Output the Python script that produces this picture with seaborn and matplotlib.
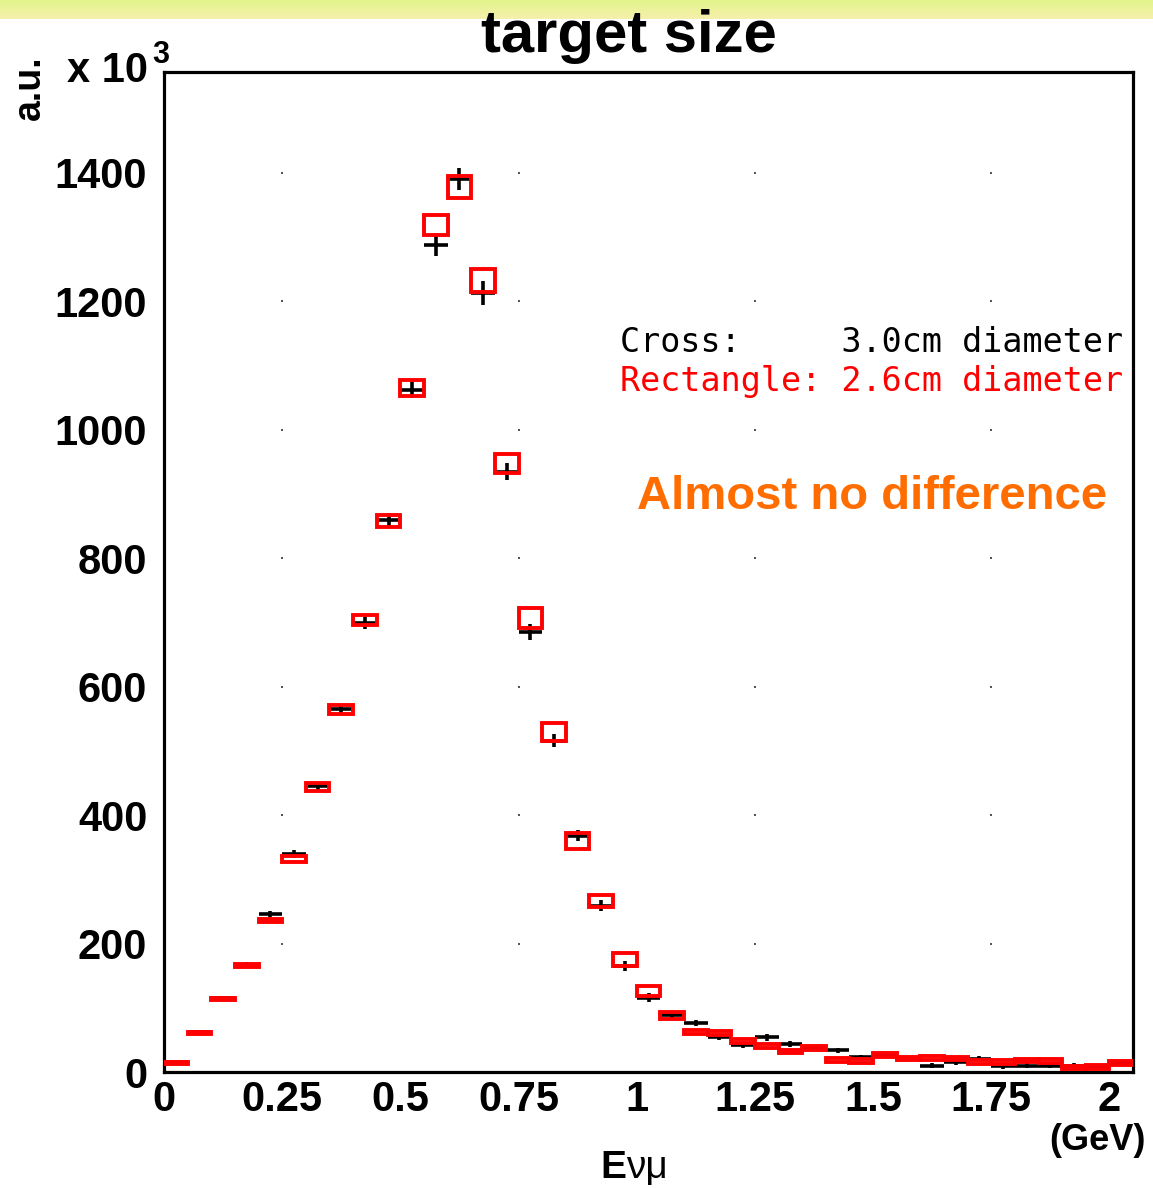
import numpy as np
import matplotlib
matplotlib.use('Agg')
import matplotlib.pyplot as plt
import seaborn as sns

# bins of 0.05 GeV from 0 to 2.05
bin_width = 0.05
bin_centers = np.arange(41) * bin_width + bin_width / 2

# cross: 3.0cm diameter (x 10^3)
cross_vals = [15, 62, 115, 167, 246, 340, 445, 565, 699, 860,
              1062, 1287, 1390, 1213, 935, 685, 516, 368, 259, 165,
              116, 89, 76, 55, 42, 54, 44, 38, 34, 23,
              27, 21, 10, 15, 21, 9, 10, 10, 10, 8, 14]
cross_errs = [2, 3, 4, 4, 5, 6, 6, 7, 9, 10,
              13, 16, 17, 18, 14, 12, 10, 9, 9, 8,
              7, 6, 5, 5, 5, 5, 5, 4, 4, 4,
              4, 4, 4, 4, 4, 4, 4, 4, 4, 4, 4]

# rectangle: 2.6cm diameter (x 10^3)
rect_vals = [14, 61, 114, 166, 236, 332, 444, 564, 704, 858,
             1065, 1319, 1378, 1232, 947, 707, 530, 360, 266, 175,
             126, 88, 63, 61, 48, 40, 32, 38, 19, 17,
             27, 21, 22, 21, 16, 16, 18, 17, 7, 8, 14]
rect_errs = [2, 2, 2, 2, 3, 5, 6, 7, 8, 9,
             13, 16, 17, 18, 15, 15, 14, 12, 9, 10,
             8, 6, 3, 3, 3, 3, 3, 3, 3, 3,
             3, 3, 3, 3, 3, 3, 3, 3, 3, 3, 3]

xticks = [0, 0.25, 0.5, 0.75, 1, 1.25, 1.5, 1.75, 2]
xtick_labels = ['0', '0.25', '0.5', '0.75', '1', '1.25', '1.5', '1.75', '2']
yticks = [0, 200, 400, 600, 800, 1000, 1200, 1400]
xmax, ymax = 2.05, 1557

sns.set_style('white')
plt.rcParams['font.family'] = ['Liberation Sans', 'DejaVu Sans']
plt.rcParams['text.color'] = 'black'
plt.rcParams['xtick.color'] = 'black'
plt.rcParams['ytick.color'] = 'black'
plt.rcParams['axes.labelcolor'] = 'black'

fig = plt.figure(figsize=(11.53, 11.88), dpi=100)

# slide header band
band = fig.add_axes([0, 1 - 19 / 1188, 1, 19 / 1188])
grad = np.linspace(0, 1, 50)[:, None, None]
top_c = np.array([226, 245, 140]) / 255
bot_c = np.array([246, 239, 172]) / 255
band.imshow(top_c * (1 - grad) + bot_c * grad, aspect='auto')
band.axis('off')

ax = fig.add_axes([0.1422, 0.0976, 0.8405, 0.8418])

# dotted grid (ROOT style, only a few dots show)
dot_x = [x for x in xticks[1::2] for _ in yticks[1:]]
dot_y = [y for _ in xticks[1::2] for y in yticks[1:]]
sns.scatterplot(x=dot_x, y=dot_y, ax=ax, color='#555555', s=4,
                marker='s', linewidth=0, zorder=1)
sns.scatterplot(x=xticks[1:], y=[ymax] * (len(xticks) - 1), ax=ax,
                color='#777777', s=4, marker='s', linewidth=0,
                zorder=1, clip_on=False)

# crosses
ax.errorbar(bin_centers, cross_vals, xerr=bin_width / 2, yerr=cross_errs,
            fmt='none', ecolor='black', elinewidth=2.6, capsize=0, zorder=2)

# rectangles
ax.bar(bin_centers, 2 * np.array(rect_errs),
       bottom=np.array(rect_vals) - np.array(rect_errs),
       width=bin_width, fill=False, edgecolor='#ff0000', linewidth=2.8,
       joinstyle='miter', zorder=3)

ax.set_xlim(0, xmax)
ax.set_ylim(0, ymax)
ax.set_xticks(xticks)
ax.set_xticklabels(xtick_labels)
ax.set_yticks(yticks)
ax.set_xticks(np.arange(0, 2.05, 0.05), minor=True)
ax.set_yticks(np.arange(0, 1550, 50), minor=True)
ax.tick_params(axis='both', which='both', direction='in', length=3,
               width=1, color='#444444', labelcolor='black')
ax.tick_params(axis='x', which='major', labelsize=30, pad=6)
ax.tick_params(axis='y', which='major', labelsize=30, pad=12)
for lab in ax.get_xticklabels() + ax.get_yticklabels():
    lab.set_fontweight('bold')
for sp in ax.spines.values():
    sp.set_linewidth(2.3)
    sp.set_color('black')
ax.set_xlabel('')
ax.set_ylabel('')

# texts
fig.text(0.545, 1 - 36 / 1188, 'target size', ha='center', va='center',
         fontsize=43, fontweight='bold')
fig.text(30 / 1153, 1 - 88 / 1188, 'a.u.', rotation=90, ha='center',
         va='center', fontsize=27, fontweight='bold')
fig.text(67 / 1153, 1 - 82 / 1188, 'x 10', ha='left', va='baseline',
         fontsize=30, fontweight='bold')
fig.text(152 / 1153, 1 - 63 / 1188, '3', ha='left', va='baseline',
         fontsize=22, fontweight='bold')

fig.text(620 / 1153, 1 - 342 / 1188, 'Cross:     3.0cm diameter',
         ha='left', va='center', fontsize=24, family='DejaVu Sans Mono',
         color='black')
fig.text(620 / 1153, 1 - 382 / 1188, 'Rectangle: 2.6cm diameter',
         ha='left', va='center', fontsize=24, family='DejaVu Sans Mono',
         color='#ff0000')
fig.text(637 / 1153, 1 - 497 / 1188, 'Almost no difference', ha='left',
         va='center', fontsize=34, fontweight='bold', color='#ff6d00')

fig.text(600 / 1153, 1 - 1178 / 1188, 'E', ha='left', va='baseline',
         fontsize=28, fontweight='bold')
fig.text(626 / 1153, 1 - 1178 / 1188, 'νμ', ha='left', va='baseline',
         fontsize=28)
fig.text(1097 / 1153, 1 - 1141 / 1188, '(GeV)', ha='center', va='center',
         fontsize=26, fontweight='bold')

fig.savefig('out.png', dpi=100)
